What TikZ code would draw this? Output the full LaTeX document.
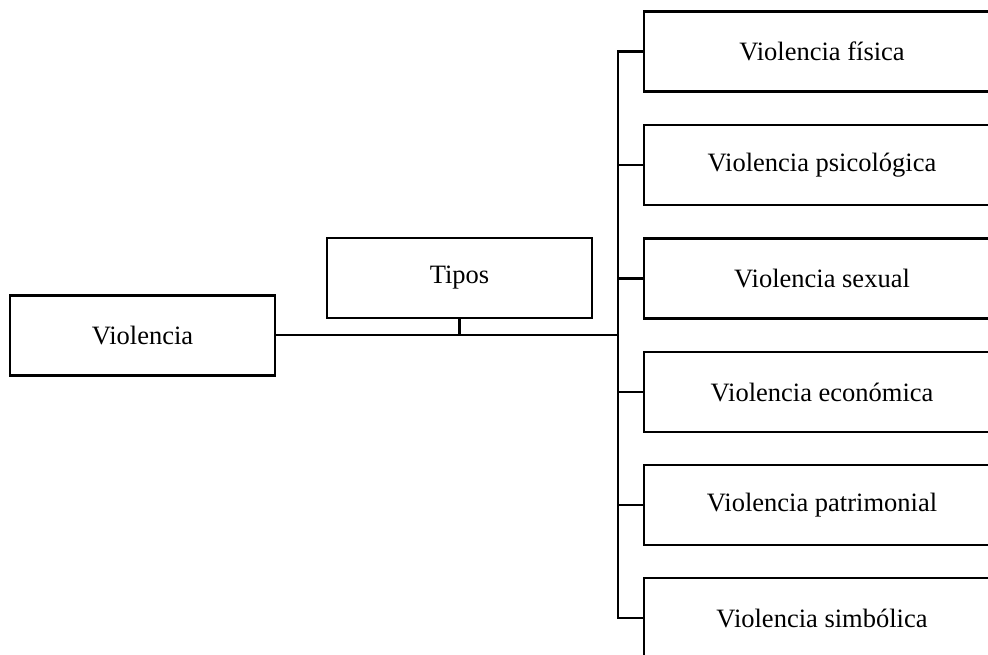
\documentclass[tikz,border=0pt]{standalone}
\usepackage{fontspec}
\setmainfont{Liberation Serif}
\begin{document}
\begin{tikzpicture}[x=1pt,y=1pt,
  box/.style={draw=black, line width=2.6pt, fill=white, minimum height=80pt, inner sep=0pt, font=\fontsize{26.5}{30}\selectfont, anchor=center},
  leftbox/.style={box, minimum width=265pt},
  typebox/.style={box, minimum width=356pt},
  conn/.style={draw=black, line width=2.8pt}]
\useasboundingbox (0,0) rectangle (988,-655);
\clip (0,0) rectangle (988,-655);
\fill[white] (0,0) rectangle (988,-655);
\node[leftbox] (viol) at (142.5,-335.5) {Violencia};
\node[leftbox] (tipos) at (459.5,-278) {Tipos};
\node[typebox] (t1) at (822,-51.5) {Violencia física};
\node[typebox] (t2) at (822,-165) {Violencia psicológica};
\node[typebox] (t3) at (822,-278.5) {Violencia sexual};
\node[typebox] (t4) at (822,-392) {Violencia económica};
\node[typebox] (t5) at (822,-505) {Violencia patrimonial};
\node[typebox] (t6) at (822,-618) {Violencia simbólica};
\coordinate (trunktop) at (618,-51.5);
\coordinate (trunkbot) at (618,-618);
\coordinate (junction) at (618,-335);
\draw[conn] (viol.east |- junction) -- (junction);
\draw[conn] (tipos.south) -- (tipos.south |- junction);
\draw[conn] (t1.west) -- (trunktop) -- (trunkbot) -- (t6.west);
\foreach \n in {t2,t3,t4,t5}{
  \draw[conn] (trunktop |- \n.west) -- (\n.west);
}
\end{tikzpicture}
\end{document}
